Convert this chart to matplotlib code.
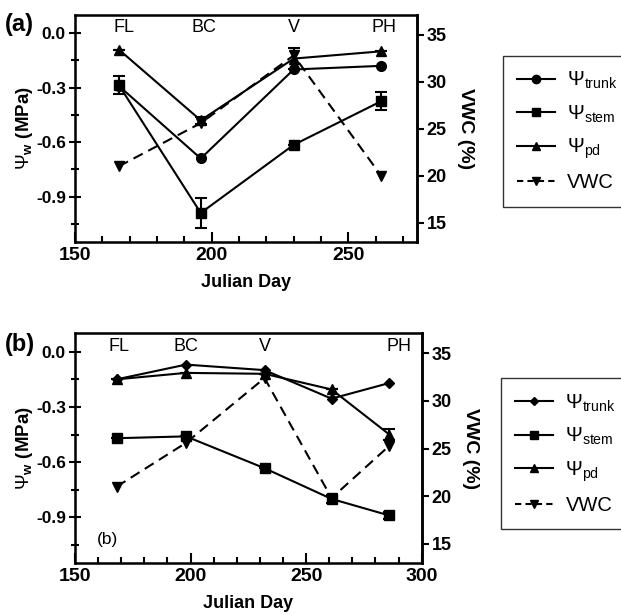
import numpy as np
import matplotlib.pyplot as plt
from matplotlib.lines import Line2D

plt.rcParams['font.family'] = 'Liberation Sans'
plt.rcParams['mathtext.fontset'] = 'custom'
plt.rcParams['mathtext.rm'] = 'Liberation Sans'
plt.rcParams['mathtext.it'] = 'Liberation Sans:italic'
plt.rcParams['mathtext.bf'] = 'Liberation Sans:bold'

# panel (a)
day_a = [166, 196, 230, 262]
trunk_a = [-0.29, -0.69, -0.20, -0.18]
stem_a = [-0.285, -0.99, -0.615, -0.375]
stem_a_err = [0.05, 0.085, 0, 0.05]
pd_a = [-0.09, -0.48, -0.14, -0.10]
pd_a_err = [0, 0.02, 0.06, 0]
vwc_a = [21.0, 25.6, 32.8, 20.0]

# panel (b)
day_b = [168, 198, 232, 261, 286]
trunk_b = [-0.15, -0.07, -0.10, -0.255, -0.17]
stem_b = [-0.47, -0.46, -0.633, -0.80, -0.89]
stem_b_err = [0, 0, 0, 0.02, 0.02]
pd_b = [-0.15, -0.115, -0.12, -0.205, -0.45]
pd_b_err = [0, 0, 0, 0, 0.03]
vwc_b = [21.0, 25.6, 32.4, 19.8, 25.3]

stages_a = ['FL', 'BC', 'V', 'PH']
stage_x_a = [168, 197, 230, 263]
stages_b = ['FL', 'BC', 'V', 'PH']
stage_x_b = [169, 198, 232, 290]

labels = [r'$\Psi_{\mathrm{trunk}}$', r'$\Psi_{\mathrm{stem}}$', r'$\Psi_{\mathrm{pd}}$', 'VWC']

fig = plt.figure(figsize=(6.21, 6.15), dpi=100)


def panel(rect, days, trunk, stem, stem_err, pd, pd_err, vwc, xlim, xticks,
          stages, stage_x, trunk_marker, trunk_ms):
    ax = fig.add_axes(rect)
    kw = dict(color='black', lw=1.5, capsize=4, elinewidth=1.5, capthick=1.5)
    ax.errorbar(days, trunk, marker=trunk_marker, ms=trunk_ms, **kw)
    ax.errorbar(days, stem, yerr=stem_err, marker='s', ms=7, **kw)
    ax.errorbar(days, pd, yerr=pd_err, marker='^', ms=7, **kw)
    ax.set_xlim(*xlim)
    ax.set_ylim(-1.15, 0.1)
    ax.set_xticks(xticks)
    ax.set_xticks(np.arange(xlim[0], xlim[1] + 1, 10), minor=True)
    ax.set_yticks([0.0, -0.3, -0.6, -0.9])
    ax.set_yticks([-0.15, -0.45, -0.75, -1.05], minor=True)
    ax.set_yticklabels(['0.0', '-0.3', '-0.6', '-0.9'], fontweight='bold', fontsize=12.5)
    ax.set_xticklabels([str(t) for t in xticks], fontweight='bold', fontsize=14)
    ax.tick_params(axis='x', which='major', direction='in', length=7, width=1.5)
    ax.tick_params(axis='x', which='minor', direction='in', length=4, width=1.5)
    ax.tick_params(axis='y', which='major', direction='inout', length=9, width=1.5, pad=2)
    ax.tick_params(axis='y', which='minor', direction='inout', length=6, width=1.5)
    for s in ax.spines.values():
        s.set_linewidth(1.8)
    ax.set_xlabel('Julian Day', fontweight='bold', fontsize=13, labelpad=7)
    ax.set_ylabel(r'$\Psi_{\mathbf{w}}$ (MPa)', fontweight='bold', fontsize=13.5, labelpad=1)
    for name, x in zip(stages, stage_x):
        ax.text(x, 0.03, name, ha='center', va='center', fontsize=13)

    ax2 = ax.twinx()
    ax2.plot(days, vwc, color='black', lw=1.5, ls=(0, (5, 3)), marker='v', ms=7)
    ax2.set_ylim(12.95, 37.1)
    ax2.set_yticks([15, 20, 25, 30, 35])
    ax2.set_yticklabels(['15', '20', '25', '30', '35'], fontweight='bold', fontsize=13)
    ax2.tick_params(axis='y', direction='out', length=5, width=1.5, pad=2)
    ax2.spines['right'].set_linewidth(1.8)
    ax2.set_ylabel('VWC (%)', fontweight='bold', fontsize=14, rotation=270, labelpad=20)

    handles = [
        Line2D([], [], color='black', lw=1.5, marker=trunk_marker, ms=trunk_ms - 1),
        Line2D([], [], color='black', lw=1.5, marker='s', ms=6),
        Line2D([], [], color='black', lw=1.5, marker='^', ms=6),
        Line2D([], [], color='black', lw=1.5, ls=(0, (3, 2)), marker='v', ms=6),
    ]
    return ax, ax2, handles


def add_legend(handles, x, y):
    leg = fig.legend(handles, labels, loc='upper left', bbox_to_anchor=(x, y), fontsize=14.5,
                     frameon=True, fancybox=False, edgecolor='black', borderaxespad=0,
                     handlelength=1.9, handletextpad=0.6, labelspacing=0.6, borderpad=0.7)
    leg.get_frame().set_linewidth(1.0)
    return leg


ax_a, ax2_a, h = panel([0.1208, 0.6065, 0.5502, 0.3691], day_a, trunk_a, stem_a, stem_a_err,
                       pd_a, pd_a_err, vwc_a, (150, 275), [150, 200, 250],
                       stages_a, stage_x_a, 'o', 7)
add_legend(h, 502.7 / 621, 1 - 56 / 615)

ax_b, ax2_b, h = panel([0.1208, 0.084, 0.5583, 0.374], day_b, trunk_b, stem_b, stem_b_err,
                       pd_b, pd_b_err, vwc_b, (150, 300), [150, 200, 250, 300],
                       stages_b, stage_x_b, 'D', 5)
ax_b.text(164, -1.02, '(b)', ha='center', va='center', fontsize=12.5)
add_legend(h, 501 / 621, 1 - 378.3 / 615)

fig.text(0.008, 0.96, '(a)', fontsize=17, fontweight='bold', ha='left', va='center')
fig.text(0.008, 0.44, '(b)', fontsize=17, fontweight='bold', ha='left', va='center')

fig.savefig('out.png', dpi=100)
